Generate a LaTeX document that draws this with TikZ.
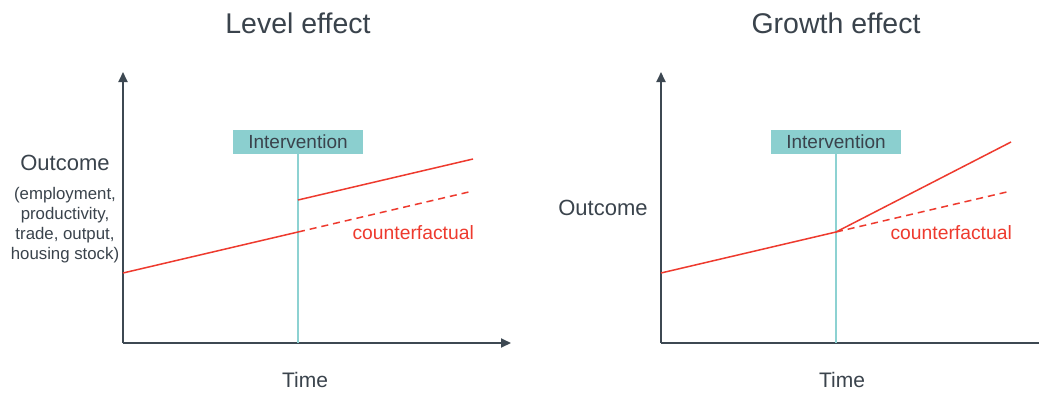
\documentclass[tikz,border=0pt]{standalone}
\usepackage{fontspec}
\setmainfont{Liberation Sans}
\usetikzlibrary{arrows.meta}
\definecolor{axisgray}{HTML}{3D4852}
\definecolor{txtgray}{HTML}{3A434C}
\definecolor{effred}{HTML}{EE3A2E}
\definecolor{tealbox}{HTML}{8BCFCF}
\definecolor{tealline}{HTML}{8DD2D2}
\tikzset{
  axis/.style={draw=axisgray, line width=1.8pt, -{Triangle[length=10pt,width=9pt]}},
  title/.style={text=txtgray, font=\fontsize{28.5}{32}\selectfont, inner sep=0pt},
  lbl/.style={text=txtgray, font=\fontsize{22}{26}\selectfont, inner sep=0pt},
  sublbl/.style={text=txtgray, font=\fontsize{16.8}{20}\selectfont, inner sep=0pt, align=center},
  timelbl/.style={text=txtgray, font=\fontsize{21}{24}\selectfont, inner sep=0pt},
  intbox/.style={fill=tealbox, text=txtgray, font=\fontsize{19}{22}\selectfont, minimum width=130pt, minimum height=24pt, inner sep=0pt},
  intline/.style={draw=tealline, line width=1.3pt},
  trend/.style={draw=effred, line width=1.5pt},
  cf/.style={draw=effred, line width=1.5pt, dash pattern=on 7pt off 5pt},
  cflbl/.style={text=effred, font=\fontsize{19.3}{22}\selectfont, inner sep=0pt, anchor=east}
}
\begin{document}
\begin{tikzpicture}[x=1pt,y=-1pt]
\clip (0,0) rectangle (1039,392);
\fill[white] (0,0) rectangle (1039,392);
% ---------- Left panel: Level effect ----------
\node[title] (t1) at (298,23) {Level effect};
\coordinate (o1) at (123,343);
\coordinate (y1) at (123,72);
\coordinate (x1) at (511,343);
\draw[axis] (o1) -- (y1);
\draw[axis] (o1) -- (x1);
\node[intbox] (b1) at (298,142) {Intervention};
\coordinate (v1) at (298,343);
\draw[intline] (b1.south) -- (v1);
\coordinate (a1) at (123,273);
\coordinate (m1) at (298,232);
\coordinate (e1) at (473,191);
\coordinate (u1) at (298,200);
\coordinate (w1) at (473,159);
\draw[trend] (a1) -- (m1);
\draw[cf] (m1) -- (e1);
\draw[trend] (u1) -- (w1);
\node[cflbl] (c1) at (474,233) {counterfactual};
\node[lbl] (l1) at (65,163) {Outcome};
\node[sublbl] (s1) at (65,225) {(employment,\\productivity,\\trade, output,\\housing stock)};
\node[timelbl] (ti1) at (305,380) {Time};
% ---------- Right panel: Growth effect ----------
\node[title] (t2) at (836,23) {Growth effect};
\coordinate (o2) at (661,343);
\coordinate (y2) at (661,72);
\coordinate (x2) at (1049,343);
\draw[axis] (o2) -- (y2);
\draw[axis] (o2) -- (x2);
\node[intbox] (b2) at (836,142) {Intervention};
\coordinate (v2) at (836,343);
\draw[intline] (b2.south) -- (v2);
\coordinate (a2) at (661,273);
\coordinate (m2) at (836,232);
\coordinate (e2) at (1011,191);
\coordinate (w2) at (1011,142);
\draw[trend, line join=round] (a2) -- (m2) -- (w2);
\draw[cf] (m2) -- (e2);
\node[cflbl] (c2) at (1012,233) {counterfactual};
\node[lbl] (l2) at (603,208) {Outcome};
\node[timelbl] (ti2) at (842,380) {Time};
\end{tikzpicture}
\end{document}
